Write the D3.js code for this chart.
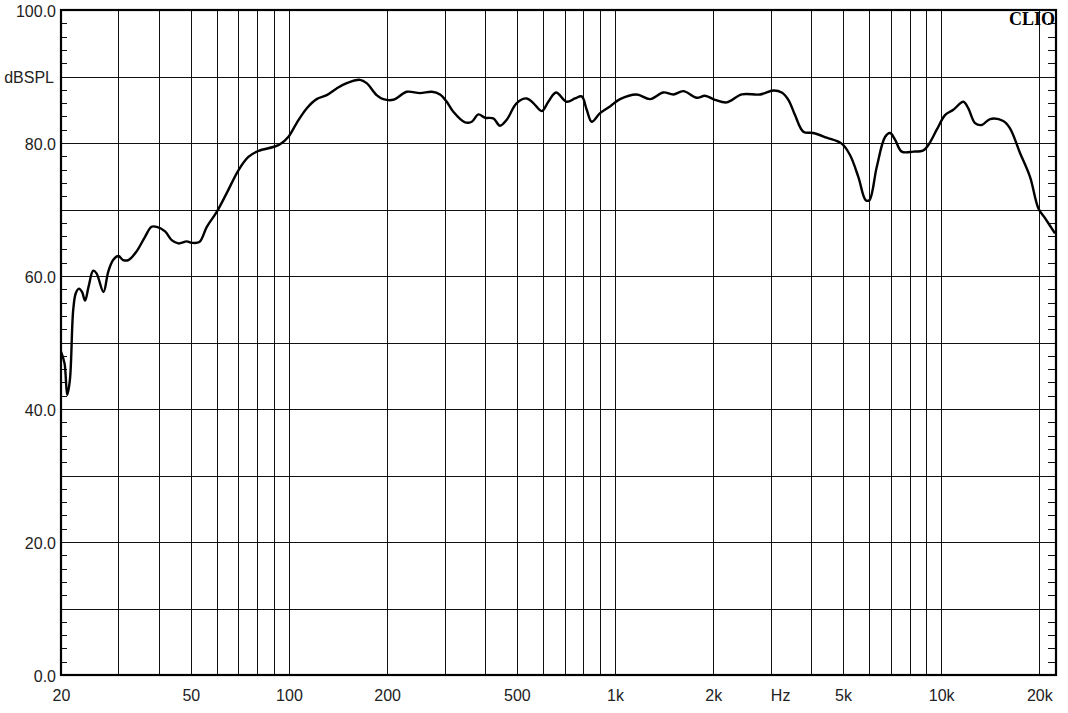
<!DOCTYPE html>
<html>
<head>
<meta charset="utf-8">
<script src="https://cdn.jsdelivr.net/npm/d3@7"></script>
<style>
  html, body { margin: 0; padding: 0; background: #fff; }
  svg { display: block; }
  .lbl text { font-family: "Liberation Sans", Arial, sans-serif; font-size: 16px; fill: #222; }
</style>
</head>
<body>
<svg id="chart" width="1068" height="713"></svg>
<script>
// ---- data ----
const freqs = [20.0, 20.5, 20.9, 21.3, 21.8, 22.2, 22.7, 23.2, 23.7, 24.3,
  25.1, 25.7, 27.0, 27.9, 28.9, 30.0, 31.0, 32.2, 34.1, 36.2,
  37.9, 39.3, 41.7, 43.7, 45.8, 48.6, 50.3, 53.1, 56.0, 60.0,
  64.5, 70.0, 75.1, 80.5, 89.5, 93.9, 99.5, 105.6, 113.3, 121.6,
  130.6, 140.1, 150.4, 165.2, 173.1, 185.7, 194.7, 208.9, 229.7, 252.3,
  274.1, 290.6, 304.7, 319.2, 346.8, 363.5, 380.9, 399.3, 423.4, 443.8,
  465.4, 499.4, 536.1, 561.6, 595.9, 624.3, 659.2, 710.6, 753.8, 790.2,
  818.7, 848.1, 899.4, 965.0, 1036, 1165, 1280, 1406, 1509, 1619,
  1780, 1887, 2025, 2200, 2446, 2784, 3058, 3245, 3400, 3563,
  3779, 4055, 4457, 4955, 5254, 5572, 5871, 6023, 6346, 6729,
  6971, 7220, 7569, 8215, 8819, 9136, 9694, 10278, 10898, 11696,
  12116, 12704, 13318, 14122, 15510, 16260, 17452, 18730, 19860, 20822,
  22342];
const spl = [48.6, 46.9, 42.1, 44.4, 54.9, 57.4, 58.1, 57.6, 56.3, 58.4,
  60.8, 60.4, 57.6, 60.6, 62.4, 63.0, 62.4, 62.4, 63.7, 65.9,
  67.4, 67.4, 66.7, 65.4, 64.9, 65.2, 65.0, 65.1, 67.4, 69.6,
  72.5, 75.9, 77.9, 78.8, 79.4, 79.8, 80.9, 83.0, 85.2, 86.6,
  87.2, 88.2, 89.0, 89.5, 89.0, 87.2, 86.6, 86.5, 87.7, 87.5,
  87.7, 87.3, 86.2, 84.7, 83.1, 83.2, 84.3, 83.8, 83.7, 82.6,
  83.5, 86.0, 86.7, 86.0, 84.8, 86.2, 87.6, 86.2, 86.7, 87.0,
  85.0, 83.2, 84.5, 85.5, 86.6, 87.3, 86.6, 87.6, 87.3, 87.8,
  86.8, 87.1, 86.5, 86.1, 87.3, 87.3, 87.9, 87.6, 86.5, 84.2,
  81.7, 81.5, 80.8, 79.9, 78.2, 74.9, 71.4, 71.4, 76.4, 80.9,
  81.5, 80.5, 78.7, 78.7, 78.9, 79.7, 82.0, 84.2, 85.0, 86.2,
  85.2, 83.0, 82.7, 83.6, 83.3, 82.2, 78.5, 74.9, 70.2, 68.7,
  66.4];

const yMajorTicks = [0, 20, 40, 60, 80, 100];
const yGridTicks = [10, 20, 30, 40, 50, 60, 70, 80, 90];
const yMinorTicks = d3.range(0, 101, 2).filter(v => v % 10 !== 0);
const yUnit = "dBSPL";
const yUnitAt = 90;
const xLabelFreqs = [20, 50, 100, 200, 500, 1000, 2000, 5000, 10000, 20000];
const xLabelTexts = ["20", "50", "100", "200", "500", "1k", "2k", "5k", "10k", "20k"];
const xUnit = "Hz";
const xUnitAt = 3000;
const xGridFreqs = [30, 40, 50, 60, 70, 80, 90,
  100, 200, 300, 400, 500, 600, 700, 800, 900,
  1000, 2000, 3000, 4000, 5000, 6000, 7000, 8000, 9000,
  10000, 20000];
const brand = "CLIO";

// ---- layout ----
const L = 61, R = 1056, T = 10, B = 675;
const svg = d3.select("#chart");
const x = d3.scaleLog().domain([20, 22500]).range([L, R]);
const y = d3.scaleLinear().domain([0, 100]).range([B, T]);

// grid (vertical)
const gx = svg.append("g").attr("transform", `translate(0,${B})`)
  .call(d3.axisBottom(x).tickValues(xGridFreqs).tickSize(-(B - T)).tickFormat(""));
gx.select(".domain").remove();
gx.selectAll("line").attr("stroke", "#111").attr("stroke-width", 1).attr("shape-rendering", "crispEdges");

// grid (horizontal)
const gy = svg.append("g").attr("transform", `translate(${L},0)`)
  .call(d3.axisLeft(y).tickValues(yGridTicks).tickSize(-(R - L)).tickFormat(""));
gy.select(".domain").remove();
gy.selectAll("line").attr("stroke", "#111").attr("stroke-width", 1).attr("shape-rendering", "crispEdges");

// minor ticks left (inward)
const ml = svg.append("g").attr("transform", `translate(${L},0)`)
  .call(d3.axisRight(y).tickValues(yMinorTicks).tickSize(6).tickFormat(""));
ml.select(".domain").remove();
ml.selectAll("line").attr("stroke", "#111").attr("stroke-width", 1).attr("shape-rendering", "crispEdges");
// minor ticks right (inward)
const mr = svg.append("g").attr("transform", `translate(${R},0)`)
  .call(d3.axisLeft(y).tickValues(yMinorTicks).tickSize(8).tickFormat(""));
mr.select(".domain").remove();
mr.selectAll("line").attr("stroke", "#111").attr("stroke-width", 1).attr("shape-rendering", "crispEdges");

// curve
const line = d3.line()
  .x((d, i) => x(freqs[i]))
  .y(d => y(d))
  .curve(d3.curveCatmullRom.alpha(0.5));
svg.append("path").datum(spl)
  .attr("d", line)
  .attr("fill", "none")
  .attr("stroke", "#000")
  .attr("stroke-width", 2.4)
  .attr("stroke-linejoin", "round");

// frame
svg.append("rect").attr("x", L).attr("y", T).attr("width", R - L).attr("height", B - T)
  .attr("fill", "none").attr("stroke", "#000").attr("stroke-width", 2.2);

// y labels
const yl = svg.append("g").attr("class", "lbl").attr("transform", `translate(${L - 5},1)`)
  .call(d3.axisLeft(y).tickValues(yMajorTicks).tickSize(0).tickPadding(0).tickFormat(d => d.toFixed(1)));
yl.select(".domain").remove();
yl.attr("font-size", null).attr("font-family", null);
svg.append("text").attr("x", L - 7).attr("y", y(yUnitAt) + 1).attr("dy", "0.35em")
  .attr("text-anchor", "end")
  .style("font-family", '"Liberation Sans", Arial, sans-serif').style("font-size", "16px").style("fill", "#222")
  .text(yUnit);

// x labels
const xl = svg.append("g").attr("class", "lbl").attr("transform", `translate(0,${B + 15})`)
  .call(d3.axisBottom(x).tickValues(xLabelFreqs).tickSize(0).tickPadding(0)
    .tickFormat((d, i) => xLabelTexts[i]));
xl.select(".domain").remove();
xl.attr("font-size", null).attr("font-family", null);
svg.append("text").attr("x", x(xUnitAt) + 10).attr("y", B + 15).attr("dy", "0.71em")
  .attr("text-anchor", "middle")
  .style("font-family", '"Liberation Sans", Arial, sans-serif').style("font-size", "16px").style("fill", "#222")
  .text(xUnit);

// brand
svg.append("text").attr("x", R - 1).attr("y", 25).attr("text-anchor", "end")
  .style("font-family", '"Liberation Serif", "Times New Roman", serif')
  .style("font-weight", "bold").style("font-size", "18px").style("fill", "#000")
  .text(brand);
</script>
</body>
</html>
